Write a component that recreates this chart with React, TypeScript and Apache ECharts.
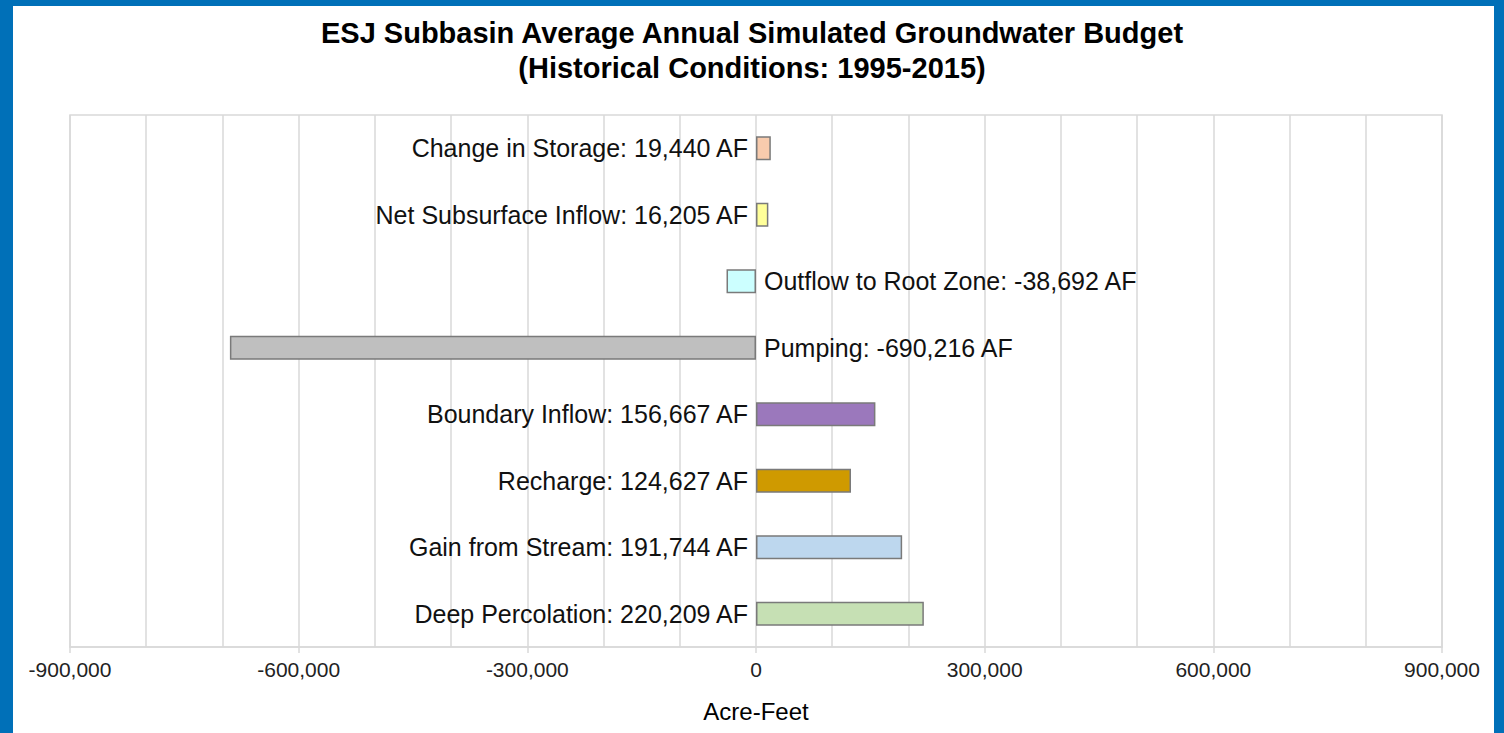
import React, { useEffect, useRef } from "react";
import * as echarts from "echarts";

const categories = [
  "Change in Storage",
  "Net Subsurface Inflow",
  "Outflow to Root Zone",
  "Pumping",
  "Boundary Inflow",
  "Recharge",
  "Gain from Stream",
  "Deep Percolation",
];
const values = [19440, 16205, -38692, -690216, 156667, 124627, 191744, 220209];
const barColors = [
  "#F8CBAD",
  "#FFFF99",
  "#CCFFFF",
  "#BFBFBF",
  "#9B78BC",
  "#CF9A00",
  "#BDD7EE",
  "#C6E0B4",
];
const titleText = "ESJ Subbasin Average Annual Simulated Groundwater Budget\n(Historical Conditions: 1995-2015)";
const axisName = "Acre-Feet";

const FONT = "'Liberation Sans', Arial, Helvetica, sans-serif";
const fmt = (v: number) => Math.round(v).toLocaleString("en-US");

export default function App() {
  const ref = useRef<HTMLDivElement>(null);
  useEffect(() => {
    if (!ref.current) return;
    const chart = echarts.init(ref.current, null, { renderer: "svg" });
    chart.setOption({
      animation: false,
      backgroundColor: "#ffffff",
      textStyle: { fontFamily: FONT },
      title: {
        text: titleText,
        left: "center",
        top: 10,
        textStyle: {
          fontFamily: FONT,
          fontSize: 29,
          fontWeight: "bold",
          color: "#000",
          lineHeight: 35,
        },
      },
      graphic: [
        { type: "rect", shape: { x: 0, y: 0, width: 13, height: 733 }, style: { fill: "#0070B8" }, z: 100 },
        { type: "rect", shape: { x: 0, y: 0, width: 1504, height: 6 }, style: { fill: "#0070B8" }, z: 100 },
        { type: "rect", shape: { x: 1494, y: 0, width: 10, height: 733 }, style: { fill: "#0070B8" }, z: 100 },
      ],
      grid: {
        left: 70,
        right: 62,
        top: 115,
        bottom: 86,
        show: true,
        borderColor: "#d9d9d9",
        borderWidth: 1.5,
        containLabel: false,
      },
      xAxis: {
        type: "value",
        min: -900000,
        max: 900000,
        interval: 300000,
        name: axisName,
        nameLocation: "middle",
        nameGap: 52,
        nameTextStyle: { fontFamily: FONT, fontSize: 24, color: "#000" },
        axisLine: { show: true, lineStyle: { color: "#d9d9d9", width: 1.5 } },
        axisTick: { show: true, length: 6, lineStyle: { color: "#d9d9d9", width: 1.5 } },
        axisLabel: {
          formatter: (v: number) => fmt(v),
          fontFamily: FONT,
          fontSize: 21,
          color: "#222",
          margin: 12,
        },
        splitLine: { show: true, lineStyle: { color: "#d9d9d9", width: 1.5 } },
        minorTick: { show: false, splitNumber: 3 },
        minorSplitLine: { show: true, lineStyle: { color: "#d9d9d9", width: 1.5 } },
      },
      yAxis: {
        type: "category",
        data: categories,
        inverse: true,
        axisLine: { show: false },
        axisTick: { show: false },
        axisLabel: { show: false },
        splitLine: { show: false },
      },
      series: [
        {
          type: "bar",
          barWidth: 24,
          data: values.map((v, i) => ({
            value: v,
            itemStyle: { color: barColors[i], borderColor: "#7a7a7a", borderWidth: 1.5 },
            label: {
              show: true,
              position: v >= 0 ? "left" : "right",
              distance: 8,
              formatter: `${categories[i]}: ${fmt(v)} AF`,
              fontFamily: FONT,
              fontSize: 25,
              color: "#111",
            },
          })),
        },
      ],
    });
    return () => chart.dispose();
  }, []);
  return (
    <div
      ref={ref}
      style={{ position: "fixed", left: 0, top: 0, width: 1504, height: 733 }}
    />
  );
}
